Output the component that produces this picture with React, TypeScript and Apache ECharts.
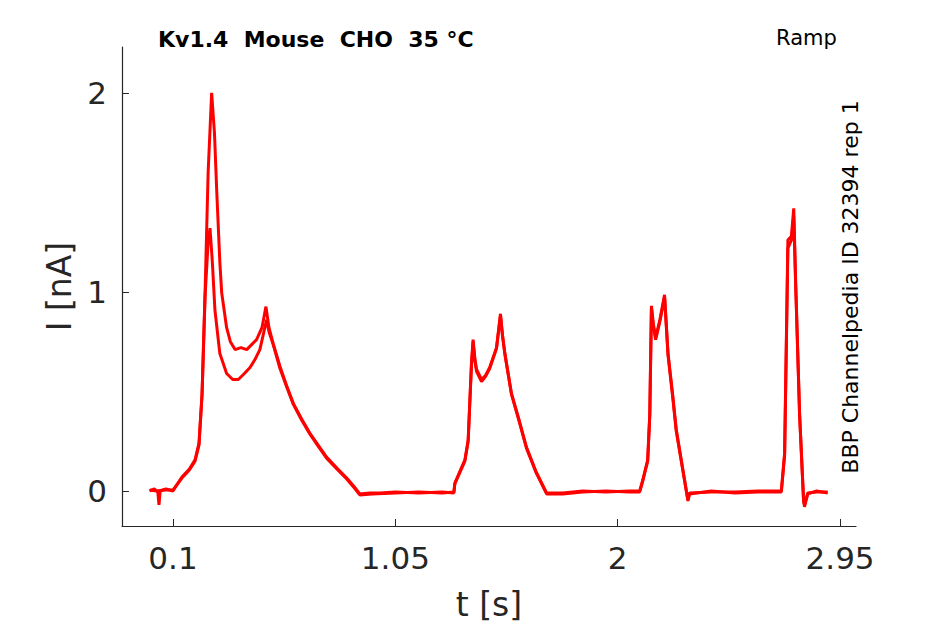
import React, { useEffect, useRef } from "react";
import * as echarts from "echarts";

const xTicks = [0.1, 1.05, 2, 2.95];
const yTicks = [0, 1, 2];

// Trace with the higher first peak (t [s], I [nA])
const traceA: [number, number][] = [
  [0.0, 0.0], [0.02, 0.01], [0.035, -0.005], [0.04, -0.07], [0.045, 0.0], [0.07, 0.01], [0.1, 0.0],
  [0.138, 0.07], [0.17, 0.11], [0.194, 0.156], [0.211, 0.24], [0.224, 0.49], [0.237, 1.0], [0.25, 1.6],
  [0.265, 2.0], [0.277, 1.8], [0.287, 1.5], [0.3, 1.15], [0.308, 0.995], [0.329, 0.82], [0.345, 0.75], [0.365, 0.71],
  [0.39, 0.72], [0.415, 0.71], [0.44, 0.74], [0.457, 0.76], [0.48, 0.82], [0.497, 0.926], [0.51, 0.82],
  [0.528, 0.74], [0.557, 0.625], [0.585, 0.53], [0.614, 0.44], [0.65, 0.36], [0.685, 0.29], [0.72, 0.23], [0.756, 0.17],
  [0.8, 0.115], [0.842, 0.065], [0.875, 0.02], [0.898, -0.015], [0.94, -0.01], [0.984, -0.01], [1.05, -0.005],
  [1.15, -0.01], [1.25, -0.005], [1.3, -0.01], [1.304, 0.04], [1.347, 0.156], [1.361, 0.256], [1.375, 0.64],
  [1.382, 0.76], [1.39, 0.66], [1.397, 0.61], [1.418, 0.56], [1.435, 0.58], [1.453, 0.62], [1.482, 0.72],
  [1.499, 0.89], [1.508, 0.78], [1.518, 0.69], [1.546, 0.49], [1.58, 0.35], [1.61, 0.22], [1.65, 0.1],
  [1.696, -0.01], [1.765, -0.01], [1.85, 0.0], [1.95, -0.005], [2.05, 0.0], [2.094, 0.0], [2.107, 0.055],
  [2.128, 0.156], [2.137, 0.39], [2.144, 0.93], [2.152, 0.84], [2.162, 0.77], [2.18, 0.86], [2.2, 0.985],
  [2.215, 0.69], [2.235, 0.48], [2.25, 0.31], [2.275, 0.13], [2.3, -0.045], [2.307, -0.01], [2.4, -0.005],
  [2.5, -0.005], [2.6, 0.0], [2.699, 0.0], [2.713, 0.19], [2.72, 0.72], [2.727, 1.26], [2.742, 1.28],
  [2.752, 1.42], [2.76, 1.06], [2.777, 0.39], [2.794, -0.045], [2.798, -0.08], [2.812, -0.01], [2.85, -0.005],
  [2.897, -0.005],
];

// Trace with the lower first peak
const traceB: [number, number][] = [
  [0.0, 0.005], [0.03, 0.0], [0.06, 0.005], [0.1, 0.005], [0.138, 0.065], [0.17, 0.105], [0.194, 0.15],
  [0.211, 0.23], [0.224, 0.48], [0.237, 0.98], [0.25, 1.25], [0.258, 1.32], [0.268, 1.15], [0.279, 0.91],
  [0.3, 0.69], [0.329, 0.59], [0.355, 0.56], [0.379, 0.56], [0.405, 0.59], [0.429, 0.62], [0.45, 0.66],
  [0.471, 0.71], [0.5, 0.86], [0.51, 0.8], [0.528, 0.735], [0.557, 0.615], [0.585, 0.525], [0.614, 0.435],
  [0.65, 0.355], [0.685, 0.285], [0.72, 0.225], [0.756, 0.165], [0.8, 0.11], [0.842, 0.06], [0.875, 0.015],
  [0.898, -0.02], [0.95, -0.015], [1.05, -0.01], [1.15, -0.005], [1.25, -0.01], [1.3, -0.005], [1.304, 0.035],
  [1.347, 0.15], [1.361, 0.25], [1.375, 0.63], [1.382, 0.75], [1.39, 0.65], [1.397, 0.6], [1.418, 0.55],
  [1.435, 0.575], [1.453, 0.615], [1.482, 0.715], [1.499, 0.88], [1.508, 0.775], [1.518, 0.685], [1.546, 0.485],
  [1.58, 0.345], [1.61, 0.215], [1.65, 0.095], [1.696, -0.015], [1.765, -0.015], [1.85, -0.005], [1.95, 0.0],
  [2.05, -0.005], [2.094, -0.005], [2.107, 0.05], [2.128, 0.15], [2.137, 0.38], [2.144, 0.92], [2.152, 0.83],
  [2.162, 0.76], [2.18, 0.85], [2.2, 0.975], [2.215, 0.68], [2.235, 0.47], [2.25, 0.3], [2.275, 0.125],
  [2.3, -0.05], [2.307, -0.015], [2.4, 0.0], [2.5, -0.01], [2.6, -0.005], [2.699, -0.005], [2.713, 0.18],
  [2.72, 0.7], [2.727, 1.22], [2.742, 1.26], [2.752, 1.38], [2.76, 1.04], [2.777, 0.38], [2.794, -0.05],
  [2.798, -0.07], [2.812, -0.015], [2.85, 0.0], [2.897, -0.01],
];

const titleText = "Kv1.4  Mouse  CHO  35 °C";
const protocolText = "Ramp";
const sideText = "BBP Channelpedia ID 32394 rep 1";

export default function App() {
  const ref = useRef<HTMLDivElement>(null);
  useEffect(() => {
    document.body.style.margin = "0";
    const chart = echarts.init(ref.current!, null, { renderer: "svg" });
    const font = "DejaVu Sans";
    const axisColor = "#262626";
    chart.setOption({
      animation: false,
      backgroundColor: "#ffffff",
      textStyle: { fontFamily: font },
      grid: { left: 122, top: 47, right: 89, bottom: 98, containLabel: false, outerBoundsMode: "none" },
      xAxis: {
        type: "value",
        min: -0.118,
        max: 3.018,
        name: "t [s]",
        nameLocation: "middle",
        nameGap: 62,
        nameTextStyle: { fontSize: 33, color: axisColor, fontFamily: font },
        axisLine: { show: true, onZero: false, lineStyle: { color: axisColor, width: 1.2 } },
        axisTick: { show: true, inside: true, length: 7, customValues: xTicks, lineStyle: { color: axisColor } },
        axisLabel: { customValues: xTicks, fontSize: 31, color: axisColor, margin: 16, fontFamily: font },
        splitLine: { show: false },
      },
      yAxis: {
        type: "value",
        min: -0.176,
        max: 2.23,
        name: "I [nA]",
        nameLocation: "middle",
        nameGap: 43,
        nameTextStyle: { fontSize: 33, color: axisColor, fontFamily: font },
        axisLine: { show: true, onZero: false, lineStyle: { color: axisColor, width: 1.2 } },
        axisTick: { show: true, inside: true, length: 7, customValues: yTicks, lineStyle: { color: axisColor } },
        axisLabel: { customValues: yTicks, fontSize: 31, color: axisColor, margin: 15, fontFamily: font },
        splitLine: { show: false },
      },
      series: [
        {
          type: "line",
          data: traceA,
          showSymbol: false,
          lineStyle: { color: "#ff0000", width: 3 },
          itemStyle: { color: "#ff0000" },
        },
        {
          type: "line",
          data: traceB,
          showSymbol: false,
          lineStyle: { color: "#ff0000", width: 3 },
          itemStyle: { color: "#ff0000" },
        },
      ],
      graphic: [
        {
          type: "text",
          left: 158,
          top: 28,
          style: { text: titleText, fontSize: 22, fontWeight: "bold", fill: "#000", fontFamily: font },
        },
        {
          type: "text",
          left: 776,
          top: 27,
          style: { text: protocolText, fontSize: 21, fill: "#000", fontFamily: font },
        },
        {
          type: "text",
          x: 850,
          y: 287,
          rotation: Math.PI / 2,
          style: {
            text: sideText,
            fontSize: 22,
            fill: "#000",
            fontFamily: font,
            align: "center",
            verticalAlign: "middle",
          },
        },
      ],
    });
    return () => chart.dispose();
  }, []);
  return <div ref={ref} style={{ width: 945, height: 624 }} />;
}
